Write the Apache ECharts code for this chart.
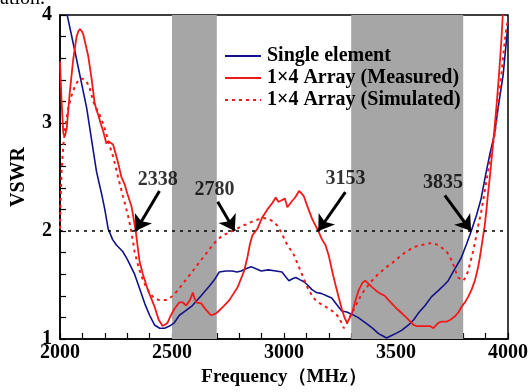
<!DOCTYPE html>
<html>
<head>
<meta charset="utf-8">
<script src="https://cdn.jsdelivr.net/npm/echarts@6/dist/echarts.min.js"></script>
<style>
  html, body { margin: 0; padding: 0; background: #fff; }
  #chart { width: 531px; height: 392px; }
</style>
</head>
<body>
<div id="chart"></div>
<script>
// Single element
const singleFreq = [2000, 2030, 2067, 2119, 2163, 2185, 2200, 2215, 2235, 2252, 2280, 2300, 2333, 2355, 2378, 2400, 2422, 2445, 2467, 2489, 2510, 2533, 2560, 2591, 2630, 2667, 2690, 2711, 2740, 2769, 2790, 2809, 2830, 2853, 2875, 2898, 2930, 2964, 2991, 3010, 3022, 3040, 3053, 3070, 3089, 3105, 3124, 3145, 3169, 3190, 3213, 3235, 3258, 3280, 3302, 3330, 3364, 3395, 3422, 3440, 3458, 3478, 3498, 3525, 3556, 3580, 3600, 3630, 3658, 3690, 3715, 3733, 3760, 3791, 3815, 3836, 3860, 3880, 3900, 3920, 3940, 3956, 3978, 3990, 4000];
const singleVswr = [4.25, 4.02, 3.66, 3.14, 2.55, 2.35, 2.2, 2.02, 1.92, 1.87, 1.81, 1.74, 1.6, 1.47, 1.33, 1.22, 1.13, 1.1, 1.1, 1.12, 1.15, 1.22, 1.26, 1.31, 1.4, 1.49, 1.55, 1.62, 1.63, 1.63, 1.62, 1.63, 1.65, 1.67, 1.65, 1.63, 1.64, 1.63, 1.62, 1.57, 1.54, 1.56, 1.57, 1.55, 1.53, 1.5, 1.46, 1.43, 1.42, 1.4, 1.38, 1.32, 1.26, 1.25, 1.23, 1.2, 1.15, 1.1, 1.05, 1.03, 1.01, 1.03, 1.05, 1.08, 1.13, 1.18, 1.24, 1.31, 1.39, 1.45, 1.5, 1.54, 1.64, 1.75, 1.88, 2.0, 2.15, 2.3, 2.52, 2.72, 2.9, 3.14, 3.44, 3.7, 3.92];

// 1x4 array, measured
const measFreq = [2000, 2007, 2015, 2022, 2030, 2037, 2044, 2052, 2059, 2067, 2074, 2082, 2089, 2097, 2104, 2115, 2126, 2141, 2155, 2163, 2170, 2181, 2192, 2207, 2215, 2222, 2237, 2252, 2263, 2274, 2289, 2300, 2319, 2338, 2355, 2370, 2393, 2422, 2440, 2458, 2467, 2480, 2495, 2511, 2533, 2547, 2563, 2580, 2593, 2600, 2607, 2630, 2652, 2674, 2690, 2704, 2733, 2756, 2793, 2822, 2837, 2848, 2859, 2881, 2904, 2926, 2948, 2963, 2975, 2985, 3004, 3015, 3026, 3037, 3050, 3067, 3078, 3089, 3104, 3126, 3153, 3170, 3185, 3200, 3215, 3230, 3245, 3259, 3270, 3281, 3292, 3304, 3318, 3333, 3350, 3363, 3378, 3393, 3410, 3430, 3450, 3467, 3485, 3504, 3520, 3541, 3560, 3578, 3593, 3607, 3622, 3637, 3652, 3667, 3680, 3689, 3705, 3726, 3745, 3763, 3780, 3793, 3808, 3822, 3838, 3852, 3865, 3874, 3885, 3896, 3904, 3911, 3919, 3933, 3948, 3960, 3970, 3978, 3985];
const measVswr = [3.57, 3.2, 2.9, 2.88, 2.95, 3.12, 3.29, 3.45, 3.59, 3.7, 3.8, 3.85, 3.87, 3.85, 3.82, 3.72, 3.62, 3.41, 3.18, 3.12, 3.08, 3.0, 2.93, 2.81, 2.83, 2.82, 2.8, 2.69, 2.6, 2.5, 2.43, 2.35, 2.23, 2.0, 1.72, 1.6, 1.45, 1.3, 1.18, 1.12, 1.13, 1.15, 1.22, 1.28, 1.34, 1.34, 1.31, 1.36, 1.43, 1.38, 1.34, 1.33, 1.27, 1.22, 1.23, 1.25, 1.31, 1.36, 1.48, 1.63, 1.76, 1.88, 1.96, 2.02, 2.13, 2.2, 2.26, 2.31, 2.27, 2.28, 2.3, 2.22, 2.25, 2.28, 2.31, 2.37, 2.35, 2.32, 2.23, 2.11, 2.0, 1.92, 1.87, 1.77, 1.63, 1.5, 1.38, 1.27, 1.2, 1.15, 1.19, 1.24, 1.35, 1.45, 1.52, 1.54, 1.51, 1.48, 1.45, 1.42, 1.4, 1.36, 1.32, 1.28, 1.25, 1.21, 1.17, 1.13, 1.12, 1.12, 1.12, 1.12, 1.12, 1.1, 1.13, 1.15, 1.16, 1.16, 1.18, 1.21, 1.25, 1.3, 1.34, 1.39, 1.46, 1.54, 1.65, 1.75, 1.9, 2.05, 2.2, 2.35, 2.5, 2.8, 3.14, 3.45, 3.75, 4.05, 4.3];

// 1x4 array, simulated
const simFreq = [2000, 2003, 2007, 2015, 2026, 2037, 2048, 2059, 2074, 2089, 2100, 2111, 2122, 2133, 2148, 2160, 2170, 2182, 2193, 2204, 2215, 2226, 2237, 2248, 2259, 2270, 2281, 2293, 2304, 2319, 2333, 2345, 2356, 2370, 2385, 2400, 2415, 2430, 2444, 2460, 2474, 2490, 2504, 2525, 2548, 2570, 2593, 2615, 2637, 2660, 2681, 2704, 2726, 2750, 2770, 2790, 2815, 2830, 2860, 2889, 2910, 2933, 2950, 2970, 2990, 3007, 3025, 3044, 3060, 3074, 3090, 3104, 3120, 3141, 3160, 3185, 3200, 3230, 3250, 3267, 3280, 3295, 3311, 3330, 3348, 3370, 3393, 3415, 3437, 3460, 3481, 3504, 3526, 3548, 3570, 3593, 3615, 3637, 3659, 3675, 3689, 3708, 3726, 3741, 3756, 3768, 3778, 3790, 3800, 3811, 3822, 3833, 3844, 3856, 3867, 3878, 3889, 3900, 3911, 3926, 3941, 3952, 3963, 3974, 3985, 3993, 4000];
const simVswr = [2.02, 2.3, 2.55, 2.8, 3.0, 3.14, 3.23, 3.3, 3.37, 3.41, 3.41, 3.4, 3.37, 3.32, 3.2, 3.14, 3.11, 3.05, 2.99, 2.92, 2.84, 2.76, 2.69, 2.6, 2.5, 2.41, 2.32, 2.23, 2.14, 1.99, 1.81, 1.71, 1.63, 1.55, 1.48, 1.43, 1.39, 1.37, 1.36, 1.36, 1.36, 1.38, 1.4, 1.45, 1.51, 1.57, 1.63, 1.69, 1.75, 1.81, 1.87, 1.92, 1.96, 1.98, 2.0, 2.02, 2.05, 2.06, 2.09, 2.11, 2.12, 2.11, 2.09, 2.05, 1.98, 1.9, 1.84, 1.78, 1.7, 1.63, 1.55, 1.48, 1.42, 1.36, 1.33, 1.3, 1.28, 1.24, 1.18, 1.1, 1.14, 1.21, 1.27, 1.35, 1.42, 1.48, 1.54, 1.59, 1.63, 1.67, 1.7, 1.74, 1.78, 1.81, 1.84, 1.86, 1.87, 1.88, 1.89, 1.88, 1.87, 1.84, 1.81, 1.76, 1.69, 1.62, 1.57, 1.55, 1.54, 1.57, 1.63, 1.72, 1.81, 1.93, 2.05, 2.15, 2.28, 2.42, 2.55, 2.73, 2.9, 3.1, 3.29, 3.52, 3.75, 3.88, 3.96];

// shaded bands (MHz) and the VSWR = 2 reference
const bands = [[2500, 2700], [3300, 3800]];
const refVswr = 2;

// annotations: band edges at VSWR 2
const annotFreq = [2338, 2780, 3153, 3835];
const annotText = ['2338', '2780', '3153', '3835'];
const arrowTail = [[2444, 2.37], [2704, 2.27], [3274, 2.36], [3718, 2.33]];
const labelAt = [[2436, 2.47], [2690, 2.38], [3274, 2.48], [3710, 2.45]];

const xTicks = [2000, 2500, 3000, 3500, 4000];
const yTicks = [1, 2, 3, 4];

const serif = "'Liberation Serif', 'Times New Roman', serif";
const pairs = (xs, ys) => xs.map((x, i) => [x, ys[i]]);

const chart = echarts.init(document.getElementById('chart'));

const option = {
  animation: false,
  backgroundColor: '#fff',
  grid: { left: 60, right: 21, top: 15, bottom: 47, show: true, borderColor: '#000', borderWidth: 1.5 },
  graphic: [
    { type: 'text', left: 0, top: -11, style: { text: 'ation.', font: "20px " + serif, fill: '#000' } }
  ],
  legend: {
    orient: 'vertical',
    left: 224,
    top: 46,
    padding: 0,
    itemWidth: 36,
    itemHeight: 14,
    itemGap: 2,
    itemStyle: { opacity: 0 },
    data: ['Single element', '1×4 Array (Measured)', '1×4 Array (Simulated)'],
    textStyle: { fontFamily: serif, fontWeight: 'bold', fontSize: 20, color: '#000', padding: [0, 0, 0, 1] }
  },
  xAxis: {
    type: 'value',
    min: 2000,
    max: 4000,
    interval: 500,
    name: 'Frequency（MHz）',
    nameLocation: 'middle',
    nameGap: 29,
    nameTextStyle: { fontFamily: serif, fontWeight: 'bold', fontSize: 19, color: '#000' },
    axisLine: { lineStyle: { color: '#000', width: 1.5 } },
    axisTick: { inside: true, length: 6, lineStyle: { color: '#000', width: 1.2 } },
    minorTick: { show: true, splitNumber: 5, length: 6, lineStyle: { color: '#000', width: 1.2 } },
    axisLabel: {
      margin: 4, fontFamily: serif, fontWeight: 'bold', fontSize: 20, color: '#000',
      formatter: v => xTicks.includes(v) ? String(v) : ''
    },
    splitLine: { show: false }
  },
  yAxis: {
    type: 'value',
    min: 1,
    max: 4,
    interval: 1,
    name: 'VSWR',
    nameLocation: 'middle',
    nameRotate: 90,
    nameGap: 31,
    nameTextStyle: { fontFamily: serif, fontWeight: 'bold', fontSize: 20, color: '#000' },
    axisLine: { lineStyle: { color: '#000', width: 1.5 } },
    axisTick: { inside: true, length: 6, lineStyle: { color: '#000', width: 1.2 } },
    minorTick: { show: true, splitNumber: 5, length: 6, lineStyle: { color: '#000', width: 1.2 } },
    axisLabel: {
      margin: 8, fontFamily: serif, fontWeight: 'bold', fontSize: 20, color: '#000',
      formatter: v => yTicks.includes(v) ? String(v) : ''
    },
    splitLine: { show: false }
  },
  series: [
    {
      name: 'bands',
      type: 'line',
      data: [],
      z: 1,
      markArea: {
        silent: true,
        itemStyle: { color: '#a6a6a6', opacity: 1 },
        data: bands.map(b => [{ xAxis: b[0] }, { xAxis: b[1] }])
      },
      markLine: {
        silent: true,
        symbol: 'none',
        label: { show: false },
        lineStyle: { color: '#000', width: 1.5, type: [3, 5] },
        data: [{ yAxis: refVswr }]
      }
    },
    {
      name: 'Single element',
      type: 'line',
      z: 3,
      symbol: 'none',
      data: pairs(singleFreq, singleVswr),
      lineStyle: { color: '#12128a', width: 1.6 },
      itemStyle: { color: '#12128a' }
    },
    {
      name: '1×4 Array (Measured)',
      type: 'line',
      z: 3,
      symbol: 'none',
      data: pairs(measFreq, measVswr),
      lineStyle: { color: '#f01a1a', width: 1.8 },
      itemStyle: { color: '#f01a1a' }
    },
    {
      name: '1×4 Array (Simulated)',
      type: 'line',
      z: 3,
      symbol: 'none',
      data: pairs(simFreq, simVswr),
      lineStyle: { color: '#f01a1a', width: 2, type: [3, 4] },
      itemStyle: { color: '#f01a1a' }
    },
    {
      name: 'notes',
      type: 'scatter',
      z: 4,
      symbolSize: 0,
      data: labelAt.map((p, i) => ({ value: p, name: annotText[i] })),
      label: {
        show: true,
        position: 'inside',
        formatter: p => p.name,
        fontFamily: serif, fontWeight: 'bold', fontSize: 20, color: '#000'
      },
      markLine: {
        silent: true,
        symbol: ['none', 'arrow'],
        symbolSize: 15,
        label: { show: false },
        lineStyle: { color: '#000', width: 3, type: 'solid' },
        data: annotFreq.map((f, i) => [{ coord: arrowTail[i] }, { coord: [f, refVswr] }])
      }
    }
  ]
};

chart.setOption(option);
</script>
</body>
</html>
